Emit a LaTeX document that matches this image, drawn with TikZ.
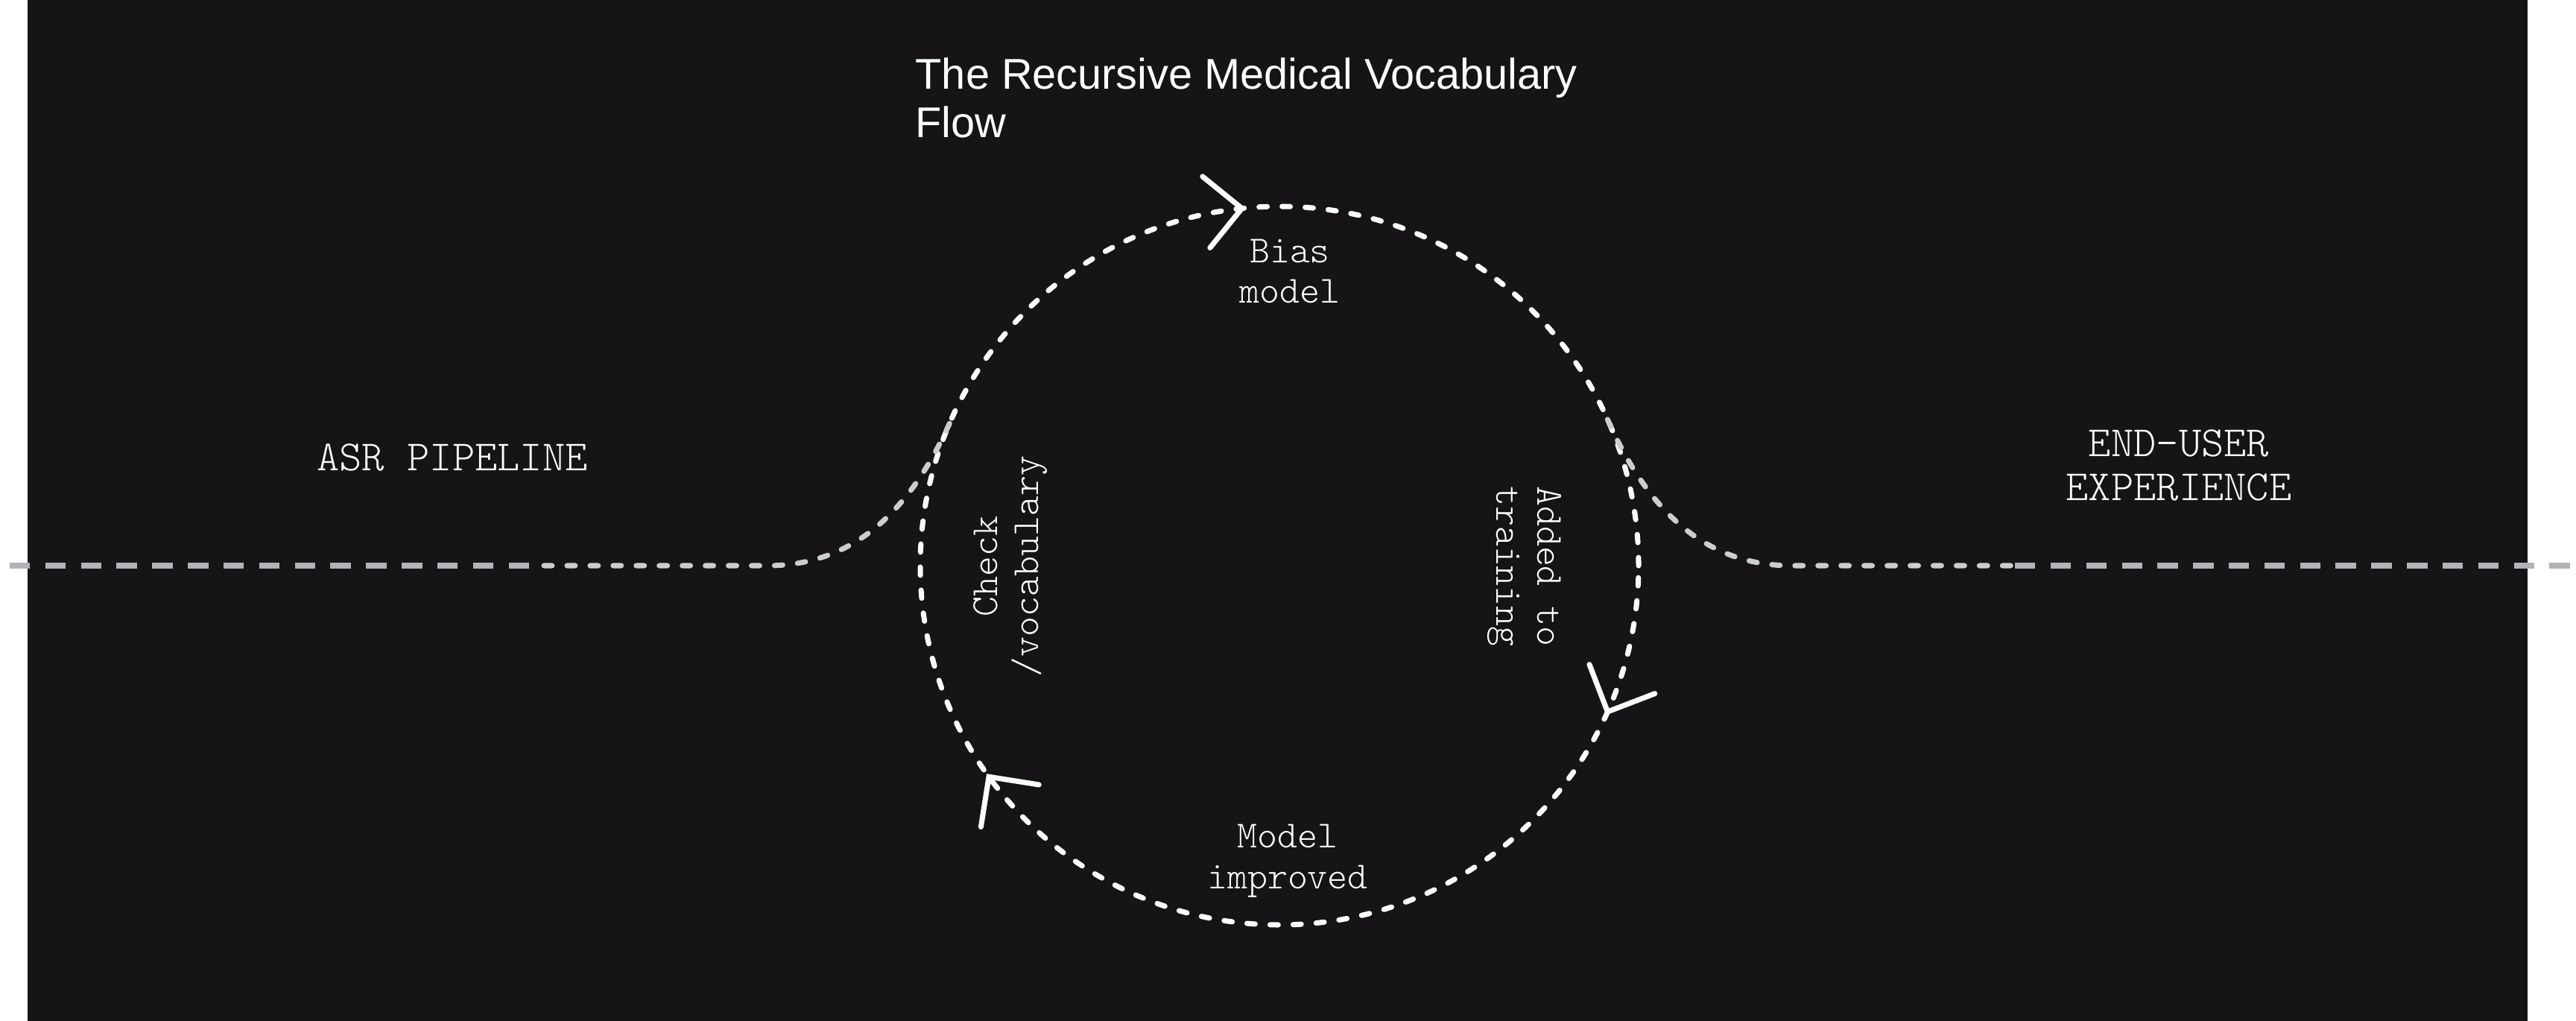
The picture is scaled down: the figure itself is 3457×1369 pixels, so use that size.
\documentclass[tikz,border=0pt]{standalone}
\usepackage{fontspec}
\setmainfont{Liberation Sans}
\newfontfamily\labelmono{Latin Modern Mono Light}
\usepackage{tikz}
\usetikzlibrary{calc}
\definecolor{bgdark}{RGB}{22,20,23}
\definecolor{pipegray}{RGB}{180,178,182}
\definecolor{linkgray}{RGB}{205,204,207}

\begin{document}
\begin{tikzpicture}[x=0.01cm,y=0.01cm,
  loopdash/.style={white,line width=2pt,line cap=round,dash pattern=on 3.1pt off 5.7pt},
  linkdash/.style={linkgray,line width=2pt,line cap=round,dash pattern=on 3.1pt off 5.7pt},
  pipedash/.style={pipegray,line width=2pt,dash pattern=on 7.8pt off 5.8pt},
  chevron/.style={white,line width=2pt,line cap=round},
  steplabel/.style={white,font=\labelmono\fontsize{14.6}{15.6}\selectfont,align=center,inner sep=0pt},
  sidelabel/.style={white,font=\labelmono\fontsize{16.4}{16.8}\selectfont,align=center,inner sep=0pt}]
\useasboundingbox (0,0) rectangle (3457,1369);
\fill[white] (-5,-5) rectangle (3462,1374);
\fill[bgdark] (37,-5) rectangle (3392,1374);
% the loop
\coordinate (ctr) at (1717,610);
\draw[loopdash] (ctr) circle[radius=482];
\foreach \a in {96,-24,216}
  \draw[chevron] ($(ctr)+(\a:482)+({\a+45}:68)$) -- ($(ctr)+(\a:482)$) -- ($(ctr)+(\a:482)+({\a+135}:68)$);
% pipeline in and out
\coordinate (pipeW) at (13,610);
\coordinate (pipeWin) at (730,610);
\coordinate (bendW) at (1030,610);
\coordinate (ljoin) at ($(ctr)+(156:482)$);
\coordinate (rjoin) at ($(ctr)+(24:482)$);
\coordinate (bendE) at (2404,610);
\coordinate (pipeEin) at (2704,610);
\coordinate (pipeE) at (3450,610);
\draw[pipedash] (pipeW) -- (pipeWin);
\draw[linkdash] (pipeWin) -- (bendW) to[out=0,in=246] (ljoin);
\draw[linkdash] (rjoin) to[out=-66,in=180] (bendE) -- (pipeEin);
\draw[pipedash] (pipeEin) -- (pipeE);
% labels
\node[white,anchor=north west,inner sep=0pt,align=left,font=\fontsize{16.4}{18.5}\selectfont] (title) at (1228,1292) {The Recursive Medical Vocabulary\\Flow};
\node[sidelabel] (asr) at (607,755) {ASR PIPELINE};
\node[sidelabel] (enduser) at (2924,745) {END-USER\\EXPERIENCE};
\node[steplabel] (bias) at (1731,1005) {Bias\\model};
\node[steplabel,rotate=90] (check) at (1356,609) {Check\\/vocabulary};
\node[steplabel,rotate=-90] (added) at (2046,609) {Added to\\training};
\node[steplabel] (improved) at (1728,214) {Model\\improved};
\end{tikzpicture}
\end{document}
